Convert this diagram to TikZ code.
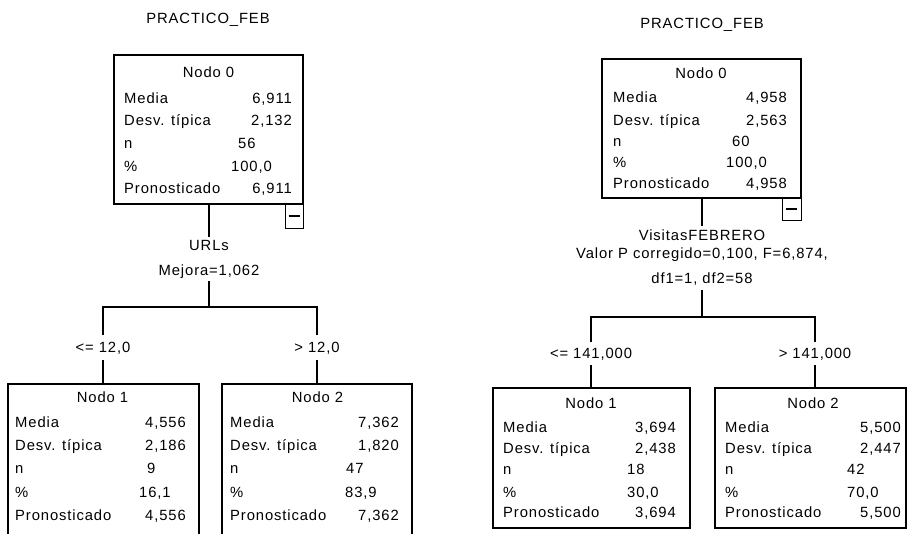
\documentclass[tikz,border=0pt]{standalone}
\usepackage{fontspec}
\setmainfont{Liberation Sans}[LetterSpace=6]
\begin{document}
\begin{tikzpicture}[x=1pt,y=-1pt,font=\fontsize{14.8}{17}\selectfont]
\tikzset{
 box/.style={draw, line width=1.1pt, inner sep=0pt, outer sep=0pt, anchor=north west},
 lbl/.style={anchor=base west, inner sep=0pt},
 valr/.style={anchor=base east, inner sep=0pt},
 vall/.style={anchor=base west, inner sep=0pt},
 ttl/.style={anchor=base, inner sep=0pt},
 spl/.style={anchor=base, inner sep=3pt},
 cbox/.style={draw, line width=1pt, inner sep=0pt, outer sep=0pt, anchor=north west},
 edge/.style={line width=1.1pt},
 brl/.style={anchor=base, inner xsep=1pt, inner ysep=6pt}
}
\useasboundingbox (0,0) rectangle (907,533);
\fill[white] (0,0) rectangle (907,533);
\clip (0,0) rectangle (907,533);

% ================= LEFT TREE =================
\node[ttl] (Ltitle) at (208,23) {PRACTICO\_FEB};

\node[box, minimum width=189pt, minimum height=149pt] (L0) at (114,55) {};
\node[cbox, minimum width=18pt, minimum height=24pt] (Lcb) at (285,204) {\rule{11pt}{1.2pt}};
\node[ttl] (L0t) at (208.5,77) {Nodo 0};
\node[lbl] (L0a) at (124,103) {Media};        \node[valr] (L0av) at (292,103) {6,911};
\node[lbl] (L0b) at (124,125) {Desv. típica}; \node[valr] (L0bv) at (292,125) {2,132};
\node[lbl] (L0c) at (124,148) {n};            \node[vall] (L0cv) at (238,148) {56};
\node[lbl] (L0d) at (124,171) {\%};           \node[vall] (L0dv) at (231,171) {100,0};
\node[lbl] (L0e) at (124,193) {Pronosticado}; \node[valr] (L0ev) at (292,193) {6,911};

\node[spl] (Lv) at (209,250) {URLs};
\node[spl] (Lm) at (209,275) {Mejora=1,062};
\coordinate (Ljn) at (209,307);

\node[box, minimum width=191pt, minimum height=170pt] (L1) at (8,384) {};
\node[box, minimum width=190pt, minimum height=170pt] (L2) at (222,384) {};

\node[brl] (Lb1) at (103,352) {<= 12,0};
\node[brl] (Lb2) at (317,352) {> 12,0};

\draw[edge] (L0.south -| Lv) -- (Lv.north);
\draw[edge] (Lm.south) -- (Ljn);
\draw[edge] (Lb1.north) |- (Ljn) -| (Lb2.north);
\draw[edge] (Lb1.south) -- (Lb1 |- L1.north);
\draw[edge] (Lb2.south) -- (Lb2 |- L2.north);

\node[ttl] (L1t) at (102.5,402) {Nodo 1};
\node[lbl] (L1a) at (15,427) {Media};        \node[valr] (L1av) at (186,427) {4,556};
\node[lbl] (L1b) at (15,450) {Desv. típica}; \node[valr] (L1bv) at (186,450) {2,186};
\node[lbl] (L1c) at (15,473) {n};            \node[vall] (L1cv) at (147,473) {9};
\node[lbl] (L1d) at (15,497) {\%};           \node[vall] (L1dv) at (139,497) {16,1};
\node[lbl] (L1e) at (15,520) {Pronosticado}; \node[valr] (L1ev) at (186,520) {4,556};

\node[ttl] (L2t) at (317.5,402) {Nodo 2};
\node[lbl] (L2a) at (230,427) {Media};        \node[valr] (L2av) at (399,427) {7,362};
\node[lbl] (L2b) at (230,450) {Desv. típica}; \node[valr] (L2bv) at (399,450) {1,820};
\node[lbl] (L2c) at (230,473) {n};            \node[vall] (L2cv) at (346,473) {47};
\node[lbl] (L2d) at (230,497) {\%};           \node[vall] (L2dv) at (345,497) {83,9};
\node[lbl] (L2e) at (230,520) {Pronosticado}; \node[valr] (L2ev) at (399,520) {7,362};

% ================= RIGHT TREE =================
\node[ttl] (Rtitle) at (702,28) {PRACTICO\_FEB};

\node[box, minimum width=199pt, minimum height=139pt] (R0) at (602,59) {};
\node[cbox, minimum width=19pt, minimum height=22pt] (Rcb) at (782,198) {\rule{11pt}{1.2pt}};
\node[ttl] (R0t) at (701,78) {Nodo 0};
\node[lbl] (R0a) at (613,102) {Media};        \node[valr] (R0av) at (787,102) {4,958};
\node[lbl] (R0b) at (613,125) {Desv. típica}; \node[valr] (R0bv) at (787,125) {2,563};
\node[lbl] (R0c) at (613,146) {n};            \node[vall] (R0cv) at (732,146) {60};
\node[lbl] (R0d) at (613,167) {\%};           \node[vall] (R0dv) at (726,167) {100,0};
\node[lbl] (R0e) at (613,188) {Pronosticado}; \node[valr] (R0ev) at (787,188) {4,958};

\node[spl] (Rv) at (702,240) {VisitasFEBRERO};
\node[spl, inner sep=1pt] (Rp) at (702,258) {Valor P corregido=0,100, F=6,874,};
\node[spl, inner sep=5pt] (Rd) at (702,283) {df1=1, df2=58};
\coordinate (Rjn) at (702,317);

\node[box, minimum width=197pt, minimum height=140pt] (R1) at (493,388) {};
\node[box, minimum width=191pt, minimum height=140pt] (R2) at (715,388) {};

\node[brl, inner ysep=5pt] (Rb1) at (591,358) {<= 141,000};
\node[brl, inner ysep=5pt] (Rb2) at (815,358) {> 141,000};

\draw[edge] (R0.south -| Rv) -- (Rv.north);
\draw[edge] (Rd.south) -- (Rjn);
\draw[edge] (Rb1.north) |- (Rjn) -| (Rb2.north);
\draw[edge] (Rb1.south) -- (Rb1 |- R1.north);
\draw[edge] (Rb2.south) -- (Rb2 |- R2.north);

\node[ttl] (R1t) at (591,408) {Nodo 1};
\node[lbl] (R1a) at (503,432) {Media};        \node[valr] (R1av) at (676,432) {3,694};
\node[lbl] (R1b) at (503,453) {Desv. típica}; \node[valr] (R1bv) at (676,453) {2,438};
\node[lbl] (R1c) at (503,474) {n};            \node[vall] (R1cv) at (627,474) {18};
\node[lbl] (R1d) at (503,497) {\%};           \node[vall] (R1dv) at (627,497) {30,0};
\node[lbl] (R1e) at (503,517) {Pronosticado}; \node[valr] (R1ev) at (676,517) {3,694};

\node[ttl] (R2t) at (813,408) {Nodo 2};
\node[lbl] (R2a) at (725,432) {Media};        \node[valr] (R2av) at (901,432) {5,500};
\node[lbl] (R2b) at (725,453) {Desv. típica}; \node[valr] (R2bv) at (901,453) {2,447};
\node[lbl] (R2c) at (725,474) {n};            \node[vall] (R2cv) at (847,474) {42};
\node[lbl] (R2d) at (725,497) {\%};           \node[vall] (R2dv) at (847,497) {70,0};
\node[lbl] (R2e) at (725,517) {Pronosticado}; \node[valr] (R2ev) at (901,517) {5,500};
\end{tikzpicture}
\end{document}
